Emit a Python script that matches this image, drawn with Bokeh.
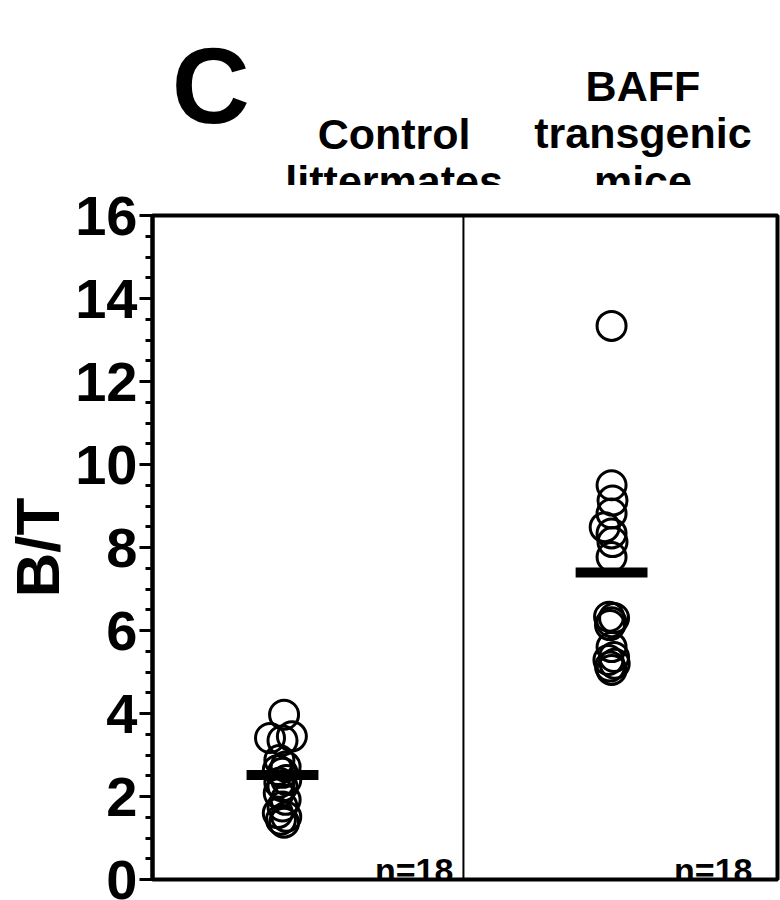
from bokeh.plotting import figure
from bokeh.layouts import column
from bokeh.models import Range1d, Span, FixedTicker, ColumnDataSource
from bokeh.core.properties import value
from bokeh.embed import file_html
from bokeh.resources import INLINE

# ---- data ----
groups = ["Control littermates", "BAFF transgenic mice"]
group_x = [0.416, 1.469]
ctrl_values = [3.97, 3.45, 3.41, 3.35, 2.88, 2.72, 2.64, 2.57, 2.40, 2.33,
               2.24, 2.08, 1.92, 1.76, 1.60, 1.51, 1.44, 1.37]
ctrl_jitter = [0.005, 0.03, -0.04, 0.0, -0.01, 0.01, -0.015, 0.0, 0.012, -0.01,
               0.0, -0.012, 0.01, 0.0, -0.015, 0.012, -0.005, 0.005]
baff_values = [13.34, 9.50, 9.13, 8.82, 8.49, 8.34, 8.13, 7.77, 6.33, 6.30,
               6.20, 6.13, 5.60, 5.36, 5.29, 5.20, 5.13, 5.05]
baff_jitter = [0.0, 0.0, 0.003, 0.0, -0.022, 0.0, 0.003, 0.0, -0.008, 0.008,
               0.0, -0.005, 0.0, 0.008, -0.01, 0.01, -0.005, 0.0]
means = [2.52, 7.40]
n_labels = ["n=18", "n=18"]
title_lines = [["Control", "littermates"], ["BAFF", "transgenic", "mice"]]
panel_letter = "C"
y_ticks = [0, 2, 4, 6, 8, 10, 12, 14, 16]

FONT = "Liberation Sans"

# ---------------- header (titles + panel letter) ----------------
TOP_H = 185
head = figure(width=780, height=TOP_H, output_backend="svg", toolbar_location=None,
              x_range=Range1d(0, 780), y_range=Range1d(TOP_H, 0),
              min_border=0)
head.axis.visible = False
head.grid.visible = False
head.outline_line_color = None
head.background_fill_color = "white"
head.border_fill_color = "white"

head.text(x=[24], y=[85], text=[panel_letter], text_font=value(FONT),
          text_font_style="bold", text_font_size="108px", text_align="left",
          text_baseline="alphabetic", text_color="black")
head.text(x=[302, 302], y=[133, 180], text=title_lines[0], text_font=value(FONT),
          text_font_style="bold", text_font_size="43px", text_align="center",
          text_baseline="alphabetic", text_color="black")
head.text(x=[613, 613, 613], y=[85, 132, 180], text=title_lines[1], text_font=value(FONT),
          text_font_style="bold", text_font_size="43px", text_align="center",
          text_baseline="alphabetic", text_color="black")

# ---------------- main chart ----------------
p = figure(width=775, height=715, output_backend="svg", toolbar_location=None,
           x_range=Range1d(0, 2), y_range=Range1d(0, 16),
           min_border_left=150, min_border_right=4, min_border_top=30,
           min_border_bottom=21, frame_width=625, frame_height=664)
p.background_fill_color = "white"
p.border_fill_color = "white"
p.outline_line_color = "black"
p.outline_line_width = 4
p.xgrid.visible = False
p.ygrid.visible = False
p.xaxis.visible = False

ya = p.yaxis[0]
ya.ticker = FixedTicker(ticks=y_ticks, minor_ticks=[i * 0.5 for i in range(33)])
ya.axis_line_width = 4
ya.major_tick_line_width = 3
ya.minor_tick_line_width = 3
ya.major_tick_out = 13
ya.major_tick_in = 0
ya.minor_tick_out = 7
ya.minor_tick_in = 0
ya.major_label_standoff = 2
ya.major_label_text_font = FONT
ya.major_label_text_font_style = "bold"
ya.major_label_text_font_size = "56px"
ya.major_label_text_color = "black"
ya.axis_label = "B/T"
ya.axis_label_text_font = FONT
ya.axis_label_text_font_style = "bold"
ya.axis_label_text_font_size = "62px"
ya.axis_label_text_color = "black"
ya.axis_label_standoff = 0

# divider between the two panels
p.add_layout(Span(location=0.995, dimension="height", line_color="black", line_width=2))

# data points
xs = [group_x[0] + j for j in ctrl_jitter] + [group_x[1] + j for j in baff_jitter]
ys = ctrl_values + baff_values
src = ColumnDataSource(dict(x=xs, y=ys))
p.scatter("x", "y", source=src, marker="circle", size=29, fill_color=None,
          line_color="black", line_width=3)

# mean bars
half = 0.115
p.segment(x0=[g - half for g in group_x], y0=means,
          x1=[g + half for g in group_x], y1=means,
          line_color="black", line_width=10, line_cap="butt")

# n labels
p.text(x=[0.963, 1.92], y=[0.217, 0.217], text=n_labels, text_font=value(FONT),
       text_font_style="bold", text_font_size="34px", text_align="right",
       text_baseline="alphabetic", text_color="black")

layout = column(head, p, spacing=0)
open("out.html", "w").write(file_html(layout, INLINE))
